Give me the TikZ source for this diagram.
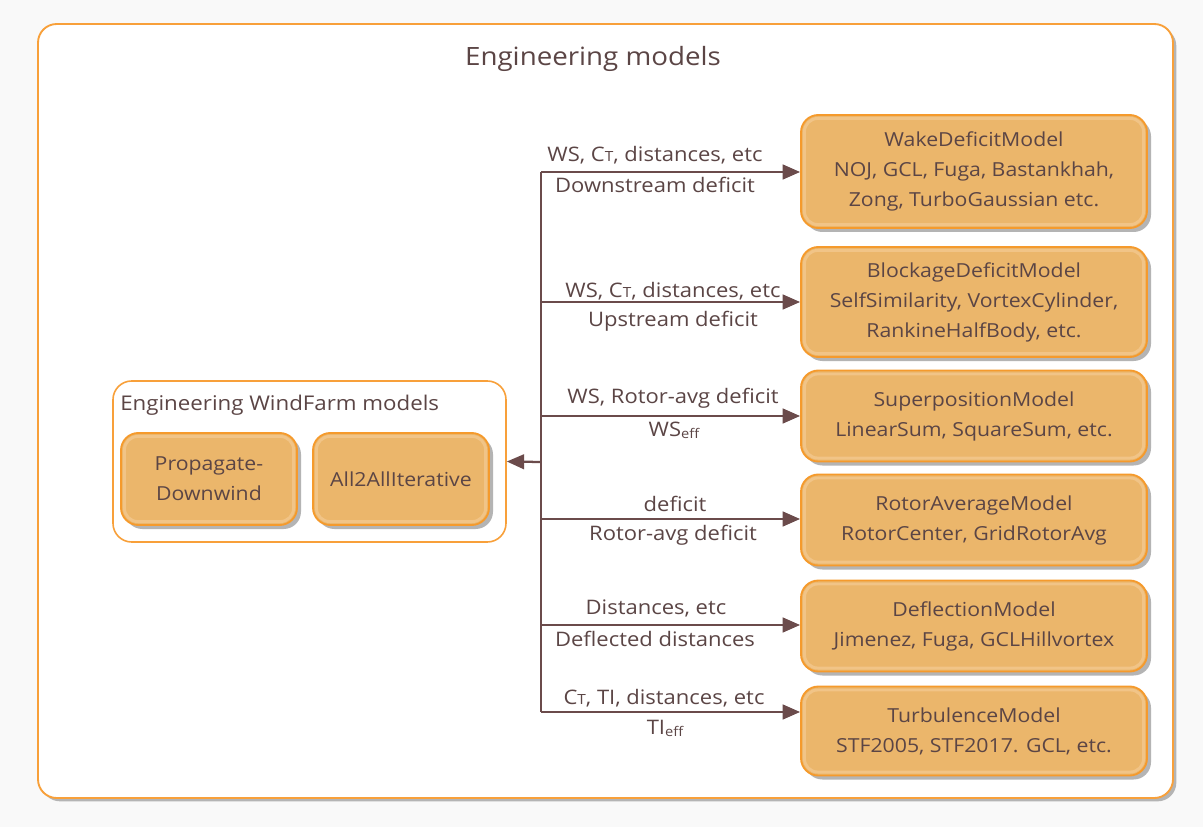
\documentclass[tikz,border=0pt]{standalone}
\usepackage{fontspec}
\setmainfont{Open Sans}[FakeStretch=1.1]
\usetikzlibrary{arrows.meta,shadows}

\definecolor{bgcol}{HTML}{F9F9F9}
\definecolor{framecol}{HTML}{F8A03A}
\definecolor{boxfill}{HTML}{EBB66B}
\definecolor{boxline}{HTML}{F59A2C}
\definecolor{boxhi}{HTML}{F1C487}
\definecolor{txtcol}{HTML}{5B4545}
\definecolor{linkcol}{HTML}{6B4B4B}
\definecolor{shadecol}{HTML}{B4B4B4}

\newcommand{\subT}{{\fontsize{10.5}{11}\selectfont T}}
\newcommand{\subeff}{\raisebox{-1.5pt}{\fontsize{10}{11}\selectfont eff}}

\tikzset{
  outerframe/.style={draw=framecol, line width=1.4pt, fill=white, rounded corners=14pt,
    drop shadow={shadow xshift=2.5pt, shadow yshift=-2.5pt, fill=shadecol, opacity=1}},
  groupframe/.style={draw=framecol, line width=1.2pt, fill=white, rounded corners=14pt},
  modelbox/.style={draw=boxline, line width=1.4pt, fill=boxfill, rounded corners=13pt,
    text=txtcol, align=center, font=\fontsize{14.5}{22.5}\selectfont, inner sep=0pt,
    drop shadow={shadow xshift=3pt, shadow yshift=-3pt, fill=shadecol, opacity=1},
    path picture={\draw[boxhi, line width=2.2pt, rounded corners=10pt]
      ([shift={(2.6pt,-2.6pt)}]path picture bounding box.north west) rectangle
      ([shift={(-2.6pt,2.6pt)}]path picture bounding box.south east);}},
  lbl/.style={text=txtcol, font=\fontsize{15}{18}\selectfont, inner sep=0pt},
  link/.style={draw=linkcol, line width=1.7pt},
  linkarrow/.style={link, -{Triangle[length=13pt,width=11pt]}},
}

\begin{document}
\begin{tikzpicture}[x=0.75pt,y=-0.75pt]
\useasboundingbox[fill=bgcol] (0,0) rectangle (1203,827);

% outer container
\node[outerframe, minimum width={1135*0.75pt}, minimum height={774*0.75pt}] (outer) at (605.5,411) {};
\node[text=txtcol, font=\fontsize{18.9}{22}\selectfont, inner sep=0pt, anchor=base] (title) at (593,66) {Engineering models};

% wind farm models group
\node[groupframe, minimum width={393*0.75pt}, minimum height={161*0.75pt}] (wf) at (309.5,461.5) {};
\node[lbl, anchor=west, font=\fontsize{15.2}{18}\selectfont] (wftitle) at (120,405) {Engineering WindFarm models};
\node[modelbox, minimum width={176*0.75pt}, minimum height={92*0.75pt}] (prop) at (209,479) {Propagate-\\Downwind};
\node[modelbox, minimum width={176*0.75pt}, minimum height={92*0.75pt}] (a2a) at (401,479) {All2AllIterative};

% sub-models
\node[modelbox, minimum width={346*0.75pt}, minimum height={113*0.75pt}] (wake) at (974,171.5)
  {WakeDeficitModel\\NOJ, GCL, Fuga, Bastankhah,\\Zong, TurboGaussian etc.};
\node[modelbox, minimum width={346*0.75pt}, minimum height={110*0.75pt}] (block) at (974,302)
  {BlockageDeficitModel\\SelfSimilarity, VortexCylinder,\\RankineHalfBody, etc.};
\node[modelbox, minimum width={346*0.75pt}, minimum height={91*0.75pt}] (super) at (974,416)
  {SuperpositionModel\\LinearSum, SquareSum, etc.};
\node[modelbox, minimum width={346*0.75pt}, minimum height={91*0.75pt}] (rotor) at (974,520)
  {RotorAverageModel\\RotorCenter, GridRotorAvg};
\node[modelbox, minimum width={346*0.75pt}, minimum height={91*0.75pt}] (defl) at (974,626)
  {DeflectionModel\\Jimenez, Fuga, GCLHillvortex};
\node[modelbox, minimum width={346*0.75pt}, minimum height={89*0.75pt}] (turb) at (974,731)
  {TurbulenceModel\\STF2005, STF2017. GCL, etc.};

% trunk and branches
\coordinate (hub) at (541,462);
\coordinate (b1) at (541,172);
\coordinate (b2) at (541,302);
\coordinate (b3) at (541,416);
\coordinate (b4) at (541,519);
\coordinate (b5) at (541,625);
\coordinate (b6) at (541,712);

\draw[link] (b1) -- (b6);
\draw[linkarrow] (hub) -- (wf.east);
\draw[linkarrow] (b1) -- (b1 -| wake.west);
\draw[linkarrow] (b2) -- (b2 -| block.west);
\draw[linkarrow] (b3) -- (b3 -| super.west);
\draw[linkarrow] (b4) -- (b4 -| rotor.west);
\draw[linkarrow] (b5) -- (b5 -| defl.west);
\draw[linkarrow] (b6) -- (b6 -| turb.west);

% branch labels
\node[lbl] (l1a) at (655,155) {WS, C\subT, distances, etc};
\node[lbl] (l1b) at (655,185) {Downstream deficit};
\node[lbl] (l2a) at (673,291) {WS, C\subT, distances, etc};
\node[lbl] (l2b) at (673,321) {Upstream deficit};
\node[lbl] (l3a) at (673,398) {WS, Rotor-avg deficit};
\node[lbl] (l3b) at (674,430) {WS\subeff};
\node[lbl] (l4a) at (675,504) {deficit};
\node[lbl] (l4b) at (673,535) {Rotor-avg deficit};
\node[lbl] (l5a) at (656,608) {Distances, etc};
\node[lbl] (l5b) at (655,639) {Deflected distances};
\node[lbl] (l6a) at (664,698) {C\subT, TI, distances, etc};
\node[lbl] (l6b) at (665,728) {TI\subeff};
\end{tikzpicture}
\end{document}
